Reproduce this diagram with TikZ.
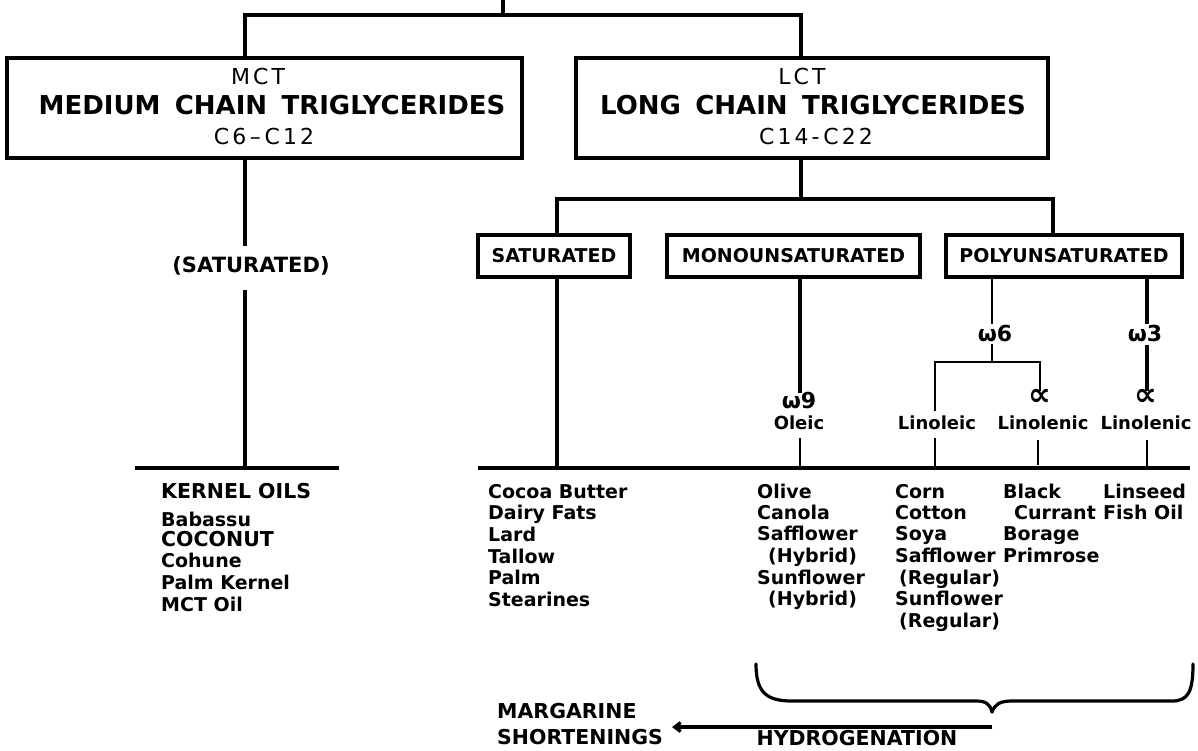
\documentclass[tikz,border=0pt]{standalone}
\usepackage{fontspec}
\setmainfont{DejaVu Sans}
\newfontfamily\spacedfont[LetterSpace=14]{DejaVu Sans}
\usetikzlibrary{arrows.meta}
\tikzset{
  ln/.style={line width=3.2pt},
  thin/.style={line width=2.2pt},
  bx/.style={draw, line width=3.2pt, inner sep=0pt},
  it/.style={font=\fontsize{19}{20}\selectfont\bfseries, inner sep=0pt, anchor=west, text height=14pt, text depth=4pt},
  itc/.style={it, font=\fontsize{20.5}{21}\selectfont\bfseries},
  lb/.style={font=\fontsize{19}{20}\selectfont\bfseries, inner sep=0pt, text height=14pt, text depth=4pt},
  acid/.style={lb, font=\fontsize{18}{20}\selectfont\bfseries},
  om/.style={font=\fontsize{22}{22}\selectfont\bfseries, inner sep=0pt, text height=15pt, text depth=1pt},
  al/.style={font=\fontsize{32}{32}\selectfont\bfseries, inner sep=0pt, text height=11pt, text depth=0pt},
  ttl/.style={font=\fontsize{26}{28}\selectfont\bfseries, inner sep=0pt},
  sub/.style={font=\spacedfont\fontsize{22}{24}\selectfont, inner sep=0pt},
  smallbox/.style={bx, minimum height=42pt, font=\fontsize{19}{20}\selectfont\bfseries},
}
\newcommand{\wsp}{\hspace{0.55em}}
\begin{document}
\begin{tikzpicture}[x=1pt,y=-1pt]
\useasboundingbox (0,0) rectangle (1198,750);

% main boxes
\node[bx, minimum width=515pt, minimum height=100pt] (mct) at (264.5,108) {};
\node[bx, minimum width=472pt, minimum height=100pt] (lct) at (812,108) {};
\node[sub] (mcta) at (258,76) {MCT};
\node[ttl] (mctb) at (272,105) {MEDIUM\wsp CHAIN\wsp TRIGLYCERIDES};
\node[sub] (mctc) at (264,136) {C6\,–\,C12};
\node[sub] (lcta) at (802,76) {LCT};
\node[ttl] (lctb) at (813,105) {LONG\wsp CHAIN\wsp TRIGLYCERIDES};
\node[sub] (lctc) at (816,136) {C14-\,C22};

% top connectors
\coordinate (top) at (503,0);
\coordinate (topj) at (503,15);
\coordinate (bL) at (245,15);
\coordinate (bR) at (801,15);
\draw[ln] (top) -- (topj);
\draw[ln] (bL |- mct.north) -- (bL) -- (bR) -- (bR |- lct.north);

% MCT branch
\node[lb, font=\fontsize{21}{22}\selectfont\bfseries] (satm) at (251,267) {(SATURATED)};
\coordinate (m1) at (245,246);
\coordinate (m2) at (245,290);
\coordinate (kerL) at (135,468);
\coordinate (kerR) at (339,468);
\draw[ln] (bL |- mct.south) -- (m1);
\draw[ln] (m2) -- (m2 |- kerL);
\draw[ln] (kerL) -- (kerR);

% LCT branch
\node[smallbox, minimum width=152pt] (sat) at (554,256) {SATURATED};
\node[smallbox, minimum width=253pt] (mono) at (793.5,256) {MONOUNSATURATED};
\node[smallbox, minimum width=236pt] (poly) at (1064,256) {POLYUNSATURATED};
\coordinate (lj) at (801,199);
\coordinate (sj) at (557,199);
\coordinate (pj) at (1053,199);
\coordinate (mj) at (800,300);
\coordinate (baseL) at (478,468);
\coordinate (baseR) at (1190,468);
\draw[ln] (lj |- lct.south) -- (lj);
\draw[ln] (sj |- sat.north) -- (sj) -- (pj) -- (pj |- poly.north);
\draw[ln] (sj |- sat.south) -- (sj |- baseL);
\draw[ln] (baseL) -- (baseR);

% monounsaturated
\node[om] (w9) at (799,401) {ω9};
\node[acid] (oleic) at (799,424) {Oleic};
\draw[ln] (mj |- mono.south) -- (mj |- w9.north);
\coordinate (o1) at (800,438);
\draw[thin] (o1) -- (o1 |- baseL);

% polyunsaturated
\node[om] (w6) at (995,334) {ω6};
\node[om] (w3) at (1145,334) {ω3};
\coordinate (p6) at (992,277);
\coordinate (p3) at (1147,277);
\coordinate (b6) at (992,362);
\coordinate (bl) at (935,362);
\coordinate (br) at (1040,362);
\node[al] (a1) at (1040,400) {∝};
\node[al] (a2) at (1146,400) {∝};
\node[acid] (lnol) at (937,424) {Linoleic};
\node[acid] (lnl1) at (1043,424) {Linolenic};
\node[acid] (lnl2) at (1146,424) {Linolenic};
\draw[thin] (p6) -- ([yshift=2pt]p6 |- w6.north);
\draw[thin] ([yshift=-2pt]b6 |- w6.south) -- (b6);
\draw[thin] ([yshift=4pt]bl |- lnol.north) -- (bl) -- (br) -- ([yshift=3pt]br |- a1.north);
\draw[ln] (p3) -- ([yshift=2pt]p3 |- w3.north);
\draw[ln] ([yshift=-3pt]p3 |- w3.south) -- ([yshift=3pt]p3 |- a2.north);
\coordinate (d1) at (935,438);
\coordinate (d2) at (1038,440);
\coordinate (d3) at (1147,440);
\draw[thin] (d1) -- (d1 |- baseL);
\draw[thin] (d2) -- ([yshift=3pt]d2 |- baseL);
\draw[thin] (d3) -- ([yshift=2pt]d3 |- baseL);

% kernel oils
\node[itc] (k0) at (161,493) {KERNEL OILS};
\node[it] (k1) at (161,521) {Babassu};
\node[itc] (k2) at (161,541) {COCONUT};
\node[it] (k3) at (161,562) {Cohune};
\node[it] (k4) at (161,584) {Palm Kernel};
\node[it] (k5) at (161,606) {MCT Oil};

% saturated list
\node[it] (s0) at (488,493) {Cocoa Butter};
\node[it] (s1) at (488,514) {Dairy Fats};
\node[it] (s2) at (488,536) {Lard};
\node[it] (s3) at (488,558) {Tallow};
\node[it] (s4) at (488,579) {Palm};
\node[it] (s5) at (488,601) {Stearines};

% oleic list
\node[it] (o0) at (757,493) {Olive};
\node[it] (o2) at (757,514) {Canola};
\node[it] (o3) at (757,535) {Safflower};
\node[it] (o4) at (768,557) {(Hybrid)};
\node[it] (o5) at (757,579) {Sunflower};
\node[it] (o6) at (768,600) {(Hybrid)};

% linoleic list
\node[it] (c0) at (895,493) {Corn};
\node[it] (c1) at (895,514) {Cotton};
\node[it] (c2) at (895,535) {Soya};
\node[it] (c3) at (895,557) {Safflower};
\node[it] (c4) at (899,579) {(Regular)};
\node[it] (c5) at (895,600) {Sunflower};
\node[it] (c6) at (899,622) {(Regular)};

% linolenic list
\node[it] (g0) at (1003,493) {Black};
\node[it] (g1) at (1014,514) {Currant};
\node[it] (g2) at (1003,535) {Borage};
\node[it] (g3) at (1003,557) {Primrose};

% omega 3 list
\node[it] (f0) at (1103,493) {Linseed};
\node[it] (f1) at (1103,514) {Fish Oil};

% brace
\coordinate (brL) at (756,664);
\coordinate (brT) at (992,712);
\coordinate (brR) at (1193,664);
\draw[ln, line cap=round] (brL) .. controls (756,692) and (766,701) .. (792,701) -- (976,701) .. controls (986,701) and (990,704) .. (brT);
\draw[ln, line cap=round] (brT) .. controls (995,704) and (1000,701) .. (1012,701) -- (1172,701) .. controls (1188,701) and (1193,692) .. (brR);

% hydrogenation
\node[itc] (marg) at (497,713) {MARGARINE};
\node[itc] (short) at (497,739) {SHORTENINGS};
\node[lb, font=\fontsize{20.5}{21}\selectfont\bfseries] (hyd) at (857,740) {HYDROGENATION};
\coordinate (hR) at (992,727);
\coordinate (hL) at (672,727);
\draw[ln, -{Straight Barb[length=6pt,width=9pt]}] (hR) -- (hL);
\end{tikzpicture}
\end{document}
